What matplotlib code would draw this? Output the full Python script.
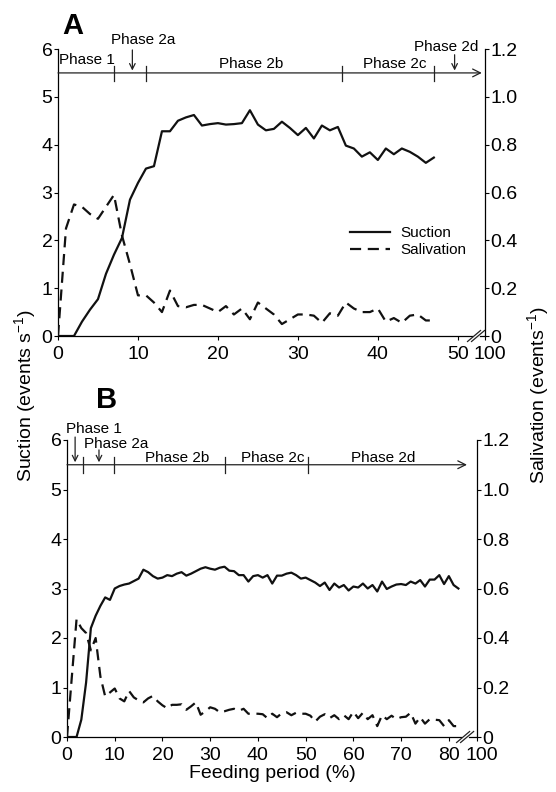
import matplotlib
matplotlib.use("Agg")
import matplotlib.pyplot as plt
import matplotlib.transforms as mtransforms
import numpy as np

plt.rcParams['font.family'] = ['Liberation Sans', 'DejaVu Sans']
plt.rcParams['mathtext.default'] = 'regular'

# Panel A: suction (events/s) and salivation (events) vs feeding period (%)
suction_a = [0, 0, 0, 0.3, 0.55, 0.77, 1.3, 1.7, 2.05, 2.85, 3.2, 3.5, 3.55, 4.28, 4.28,
             4.5, 4.57, 4.62, 4.4, 4.43, 4.45, 4.42, 4.43, 4.45, 4.72, 4.42, 4.3, 4.33,
             4.48, 4.35, 4.2, 4.35, 4.13, 4.4, 4.3, 4.37, 3.98, 3.92, 3.75, 3.84, 3.68,
             3.92, 3.8, 3.92, 3.85, 3.75, 3.62, 3.73]
salivation_a = [0, 0.45, 0.55, 0.54, 0.51, 0.49, 0.54, 0.59, 0.42, 0.3, 0.17, 0.17, 0.14,
                0.1, 0.19, 0.125, 0.12, 0.13, 0.13, 0.115, 0.1, 0.125, 0.09, 0.115, 0.07,
                0.14, 0.115, 0.09, 0.05, 0.07, 0.09, 0.09, 0.085, 0.055, 0.095, 0.085,
                0.14, 0.115, 0.1, 0.1, 0.115, 0.06, 0.075, 0.055, 0.085, 0.09, 0.065, 0.065]

# Panel B
suction_b = [0, 0, 0, 0.35, 1.1, 2.2, 2.45, 2.65, 2.82, 2.77, 3.0, 3.05, 3.08, 3.1, 3.15,
             3.2, 3.38, 3.33, 3.25, 3.2, 3.22, 3.27, 3.25, 3.3, 3.33, 3.26, 3.3, 3.35, 3.4,
             3.43, 3.4, 3.38, 3.42, 3.44, 3.36, 3.35, 3.27, 3.27, 3.14, 3.25, 3.27, 3.22,
             3.27, 3.1, 3.26, 3.26, 3.3, 3.32, 3.27, 3.2, 3.22, 3.17, 3.12, 3.05, 3.12,
             2.97, 3.1, 3.02, 3.07, 2.96, 3.04, 3.02, 3.1, 3.0, 3.07, 2.94, 3.14, 2.99,
             3.04, 3.08, 3.09, 3.07, 3.14, 3.1, 3.17, 3.04, 3.18, 3.18, 3.27, 3.09, 3.25,
             3.07, 3.0]
salivation_b = [0, 0.24, 0.476, 0.44, 0.42, 0.35, 0.40, 0.244, 0.164, 0.18, 0.196, 0.156,
                0.144, 0.186, 0.16, 0.148, 0.14, 0.156, 0.166, 0.144, 0.128, 0.116, 0.13,
                0.13, 0.132, 0.11, 0.124, 0.14, 0.09, 0.104, 0.12, 0.114, 0.10, 0.104,
                0.11, 0.114, 0.106, 0.114, 0.094, 0.094, 0.094, 0.092, 0.076, 0.094, 0.08,
                0.096, 0.10, 0.088, 0.098, 0.094, 0.094, 0.086, 0.062, 0.082, 0.092, 0.076,
                0.088, 0.072, 0.088, 0.072, 0.102, 0.076, 0.098, 0.072, 0.088, 0.044, 0.088,
                0.072, 0.086, 0.072, 0.08, 0.082, 0.098, 0.054, 0.08, 0.054, 0.072, 0.07,
                0.068, 0.044, 0.068, 0.044, 0.044]

# phase boundaries (%), arrows marking short phases, labels (text, x, baseline y)
bounds_a = [7, 11, 35.5, 47]
arrows_a = [9.3, 49.6]
labels_a = [("Phase 1", 3.6, 5.69), ("Phase 2a", 10.6, 6.11), ("Phase 2b", 24.1, 5.6),
            ("Phase 2c", 42.1, 5.6), ("Phase 2d", 48.6, 5.96)]
bounds_b = [3.3, 9.9, 33.2, 50.4]
arrows_b = [1.7, 6.7]
labels_b = [("Phase 1", 5.55, 6.14), ("Phase 2a", 10.3, 5.84), ("Phase 2b", 23, 5.55),
            ("Phase 2c", 43.2, 5.55), ("Phase 2d", 66.2, 5.55)]

fig = plt.figure(figsize=(5.56, 7.92), dpi=100)


def panel(rect, suction, saliv, xmax, xticks, bounds, arrows, labels, arrow_end,
          arrow_tops, break_pos):
    ax = fig.add_axes(rect)
    ax2 = ax.twinx()
    l1, = ax.plot(np.arange(len(suction)), suction, color='#111111', lw=1.6,
                  label='Suction')
    l2, = ax2.plot(np.arange(len(saliv)), saliv, color='#111111', lw=1.6,
                   dashes=(5, 3), label='Salivation')
    ax.set_xlim(0, xmax)
    ax.set_ylim(0, 6)
    ax2.set_ylim(0, 1.2)
    ax.set_yticks(range(7))
    ax2.set_yticks([0, 0.2, 0.4, 0.6, 0.8, 1.0, 1.2])
    ax2.set_yticklabels(['0', '0.2', '0.4', '0.6', '0.8', '1.0', '1.2'])
    ax.set_xticks(xticks + [xmax])
    ax.set_xticklabels([str(t) for t in xticks] + ['100'])
    for a in (ax, ax2):
        a.spines['top'].set_visible(False)
        a.tick_params(labelsize=14, length=3, width=0.8, pad=1, direction='out')
        for s in a.spines.values():
            s.set_linewidth(0.9)
    ax.tick_params(axis='x', pad=4)
    ax.spines['right'].set_visible(False)
    ax2.spines['left'].set_visible(False)
    ax2.spines['bottom'].set_visible(False)
    # nudge the "100" label right, away from the last regular label
    last = ax.get_xticklabels()[-1]
    last.set_transform(last.get_transform() +
                       mtransforms.ScaledTranslation(5 / 100, 0, fig.dpi_scale_trans))

    # phase line with arrowhead
    ax.annotate('', xy=(arrow_end, 5.5), xytext=(0, 5.5),
                arrowprops=dict(arrowstyle='->', lw=0.9, color='#222222',
                                mutation_scale=14, shrinkA=0, shrinkB=0))
    for b in bounds:
        ax.plot([b, b], [5.33, 5.65], color='#222222', lw=0.9)
    for a_x, top in zip(arrows, arrow_tops):
        ax.annotate('', xy=(a_x, 5.55), xytext=(a_x, top),
                    arrowprops=dict(arrowstyle='->', lw=0.9, color='#222222',
                                    mutation_scale=10, shrinkA=0, shrinkB=0),
                    annotation_clip=False)
    for txt, tx, ty in labels:
        ax.text(tx, ty, txt, ha='center', va='baseline', fontsize=11, clip_on=False)

    # axis break marks on the x axis
    w_ax = rect[2] * 556
    h_ax = rect[3] * 792
    dx, dy, gap = 6.5 / w_ax, 5.5 / h_ax, 4.0 / w_ax
    ax.plot([break_pos - gap / 2, break_pos + gap / 2], [0, 0], transform=ax.transAxes,
            color='white', lw=2, clip_on=False, zorder=5)
    for off in (-gap / 2, gap / 2):
        c = break_pos + off
        ax.plot([c - dx, c + dx], [-dy, dy], transform=ax.transAxes,
                color='#222222', lw=0.9, clip_on=False, zorder=6)
    return ax, l1, l2


ax_a, h1, h2 = panel([58 / 556, 1 - 336 / 792, 427 / 556, 287 / 792],
                     suction_a, salivation_a, 53.4, [0, 10, 20, 30, 40, 50],
                     bounds_a, arrows_a, labels_a, 53.0, [5.98, 5.88], 0.979)
ax_a.legend([h1, h2], ['Suction', 'Salivation'], loc='upper left',
            bbox_to_anchor=(0.67, 0.404), borderaxespad=0, frameon=False, fontsize=11,
            handlelength=2.6, handletextpad=0.7, labelspacing=0.18)

ax_b, _, _ = panel([67 / 556, 1 - 737 / 792, 410 / 556, 297 / 792],
                   suction_b, salivation_b, 85.9, [0, 10, 20, 30, 40, 50, 60, 70, 80],
                   bounds_b, arrows_b, labels_b, 83.8, [6.06, 5.8], 0.971)

fig.text(62 / 556, 1 - 34 / 792, 'A', fontsize=21, fontweight='bold', va='baseline')
fig.text(96 / 556, 1 - 408 / 792, 'B', fontsize=21, fontweight='bold', va='baseline')
fig.text(25 / 556, 1 - 395 / 792, 'Suction (events s$^{-1}$)', rotation=90,
         ha='center', va='center', fontsize=14)
fig.text(538 / 556, 1 - 395 / 792, 'Salivation (events$^{-1}$)', rotation=90,
         ha='center', va='center', fontsize=14)
fig.text(272 / 556, 1 - 774 / 792, 'Feeding period (%)', ha='center', va='center',
         fontsize=14)

fig.savefig('out.png', dpi=100)
